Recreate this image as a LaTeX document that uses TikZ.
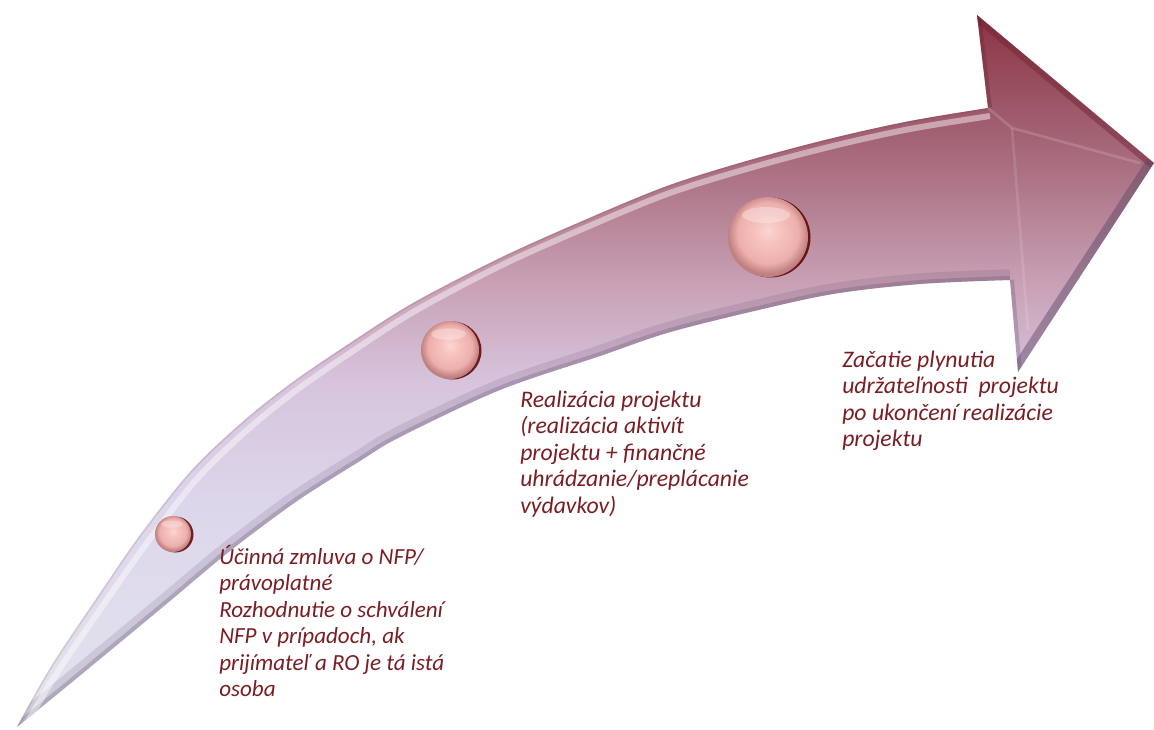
\documentclass[tikz,border=0pt]{standalone}
\usepackage{fontspec}
\setmainfont{Carlito}
\definecolor{txt}{HTML}{7B1E24}
\definecolor{a1}{HTML}{8A3444}
\definecolor{a2}{HTML}{A86C7E}
\definecolor{a3}{HTML}{C8A0B4}
\definecolor{a4}{HTML}{D6C4DC}
\definecolor{a5}{HTML}{DCD6EA}
\definecolor{a6}{HTML}{E4E4EE}
\definecolor{b1}{HTML}{FBD6D2}
\definecolor{b2}{HTML}{F6C2BE}
\definecolor{b3}{HTML}{EDB0AC}
\definecolor{b4}{HTML}{C08080}
\definecolor{shadowc}{HTML}{5A4466}
\definecolor{redge}{HTML}{6E2230}
\pgfdeclareverticalshading{arrowsh}{100bp}{color(0bp)=(a6); color(25bp)=(a6); color(40.8bp)=(a5); color(49.3bp)=(a4); color(56.3bp)=(a3); color(64.8bp)=(a2); color(75bp)=(a1); color(100bp)=(a1)}
\pgfdeclareradialshading{ballsh}{\pgfpoint{0bp}{4bp}}{color(0bp)=(b1); color(8bp)=(b2); color(19bp)=(b3); color(25bp)=(b4); color(50bp)=(b4)}
\tikzset{
  lbl/.style={text=txt, inner sep=0pt, anchor=base west},
  lblsmall/.style={lbl, font=\fontsize{17.3}{19.9}\selectfont\itshape},
  lblbig/.style={lbl, font=\fontsize{17.8}{19.9}\selectfont\itshape},
  edgecurve/.style={smooth, tension=0.55},
}
\def\arrowshape{plot[edgecurve] coordinates {(17,727) (50,668) (100,593) (140,535) (190,472) (240,424) (290,384) (347,345) (413,303) (500,258) (580,222) (667,186) (750,160) (833,138) (910,121) (988,108)} -- (977,15) -- (1154,163) -- (1018,372) -- (1010,280) -- plot[edgecurve] coordinates {(1010,280) (920,284) (833,294) (750,312) (667,333) (600,356) (500,390) (400,437) (360,461) (303,497) (260,528) (220,559) (170,601) (117,645) (60,692) (17,727)} -- cycle}
\newcommand\myball[3]{%
  \fill[black!65!red, opacity=0.85] (#1+2.5,#2+0.5) circle[radius=#3];
  \shade[shading=ballsh] (#1,#2) circle[radius=#3];
  \fill[white, opacity=0.3] (#1-0.05*#3,#2-0.55*#3) ellipse[x radius=0.6*#3, y radius=0.2*#3];
}
\begin{document}
\begin{tikzpicture}[x=0.75pt,y=-0.75pt]
\useasboundingbox (0,0) rectangle (1154,729);
% arrow body
\shade[shading=arrowsh] \arrowshape;
\begin{scope}
  \clip \arrowshape;
  % lower shadow band
  \draw[shadowc, opacity=0.15, line width=16pt] plot[edgecurve] coordinates {(1010,280) (920,284) (833,294) (750,312) (667,333) (600,356) (500,390) (400,437) (360,461) (303,497) (260,528) (220,559) (170,601) (117,645) (60,692) (17,727)};
  \draw[shadowc, opacity=0.25, line width=6pt] plot[edgecurve] coordinates {(1010,280) (920,284) (833,294) (750,312) (667,333) (600,356) (500,390) (400,437) (360,461) (303,497) (260,528) (220,559) (170,601) (117,645) (60,692) (17,727)};
  % upper highlight
  \draw[white, opacity=0.45, line width=4.5pt] plot[edgecurve] coordinates {(20,735) (55,676) (106,601) (147,543) (196,480) (245,432) (294,392) (350,353) (415,311) (500,266) (580,230) (667,194) (750,168) (833,146) (910,129) (990,116)};
  \draw[redge, opacity=0.12, line width=2.5pt] plot[edgecurve] coordinates {(17,727) (50,668) (100,593) (140,535) (190,472) (240,424) (290,384) (347,345) (413,303) (500,258) (580,222) (667,186) (750,160) (833,138) (910,121) (988,108)};
  % arrowhead bevels
  \draw[redge, opacity=0.45, line width=9pt] (977,15) -- (1154,163);
  \draw[redge, opacity=0.35, line width=6pt] (988,108) -- (977,15);
  \draw[shadowc, opacity=0.45, line width=12pt] (1154,163) -- (1018,372);
  \draw[shadowc, opacity=0.25, line width=6pt] (1018,372) -- (1010,280);
  \draw[white, opacity=0.15, line width=2pt] (988,108) -- (1012,128) -- (1140,163);
  \draw[white, opacity=0.12, line width=2pt] (1012,128) -- (1028,330);
\end{scope}
% balls
\myball{173}{534}{18}
\myball{450}{350}{29}
\myball{768}{237}{40}
% labels
\node[lblsmall] (t1) at (219,564) {\begin{tabular}[t]{@{}l@{}}Účinná zmluva o NFP/\\ právoplatné\\ Rozhodnutie o schválení\\ NFP v prípadoch, ak\\ prijímateľ a RO je tá istá\\ osoba\end{tabular}};
\node[lblbig] (t2) at (520,407) {\begin{tabular}[t]{@{}l@{}}Realizácia projektu\\ (realizácia aktivít\\ projektu + finančné\\ uhrádzanie/preplácanie\\ výdavkov)\end{tabular}};
\node[lblbig] (t3) at (842,367) {\begin{tabular}[t]{@{}l@{}}Začatie plynutia\\ udržateľnosti~ projektu\\ po ukončení realizácie\\ projektu\end{tabular}};
\end{tikzpicture}
\end{document}
